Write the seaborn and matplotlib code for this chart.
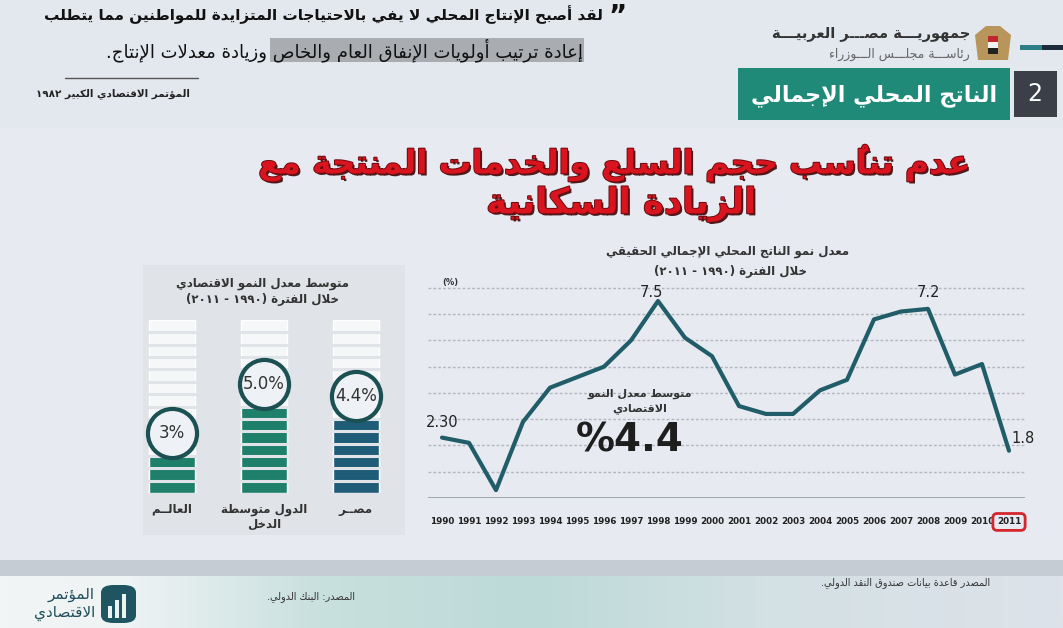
import numpy as np
import pandas as pd
import matplotlib
matplotlib.use("Agg")
import matplotlib.pyplot as plt
import matplotlib.patheffects as pe
from matplotlib.patches import Rectangle, FancyBboxPatch, Polygon
import seaborn as sns

# ---------------- data ----------------
years = list(range(1990, 2012))
gdp_growth = [2.3, 2.1, 0.3, 2.9, 4.2, 4.6, 5.0, 6.0, 7.5, 6.1, 5.4,
              3.5, 3.2, 3.2, 4.1, 4.5, 6.8, 7.1, 7.2, 4.7, 5.1, 1.8]
labelled_points = {1990: "2.30", 1998: "7.5", 2008: "7.2", 2011: "1.8"}
grid_levels = [1, 2, 3, 4, 5, 6, 7, 8]

bar_categories = ["العالــم", "الدول متوسطة\nالدخل", "مصــر"]
bar_values = ["3%", "5.0%", "4.4%"]
bar_filled_segments = [3, 7, 6]
bar_total_segments = 14

# ---------------- minimal Arabic shaping (presentation forms + visual order) ----------------
DUAL = {'ئ': 0xFE89, 'ب': 0xFE8F, 'ت': 0xFE95, 'ث': 0xFE99, 'ج': 0xFE9D, 'ح': 0xFEA1,
        'خ': 0xFEA5, 'س': 0xFEB1, 'ش': 0xFEB5, 'ص': 0xFEB9, 'ض': 0xFEBD, 'ط': 0xFEC1,
        'ظ': 0xFEC5, 'ع': 0xFEC9, 'غ': 0xFECD, 'ف': 0xFED1, 'ق': 0xFED5, 'ك': 0xFED9,
        'ل': 0xFEDD, 'م': 0xFEE1, 'ن': 0xFEE5, 'ه': 0xFEE9, 'ي': 0xFEF1}
RIGHT = {'آ': 0xFE81, 'أ': 0xFE83, 'ؤ': 0xFE85, 'إ': 0xFE87, 'ا': 0xFE8D, 'ة': 0xFE93,
         'د': 0xFEA9, 'ذ': 0xFEAB, 'ر': 0xFEAD, 'ز': 0xFEAF, 'و': 0xFEED, 'ى': 0xFEEF}
NONJ = {'ء': 0xFE80}
LAMALEF = {'آ': 0xFEF5, 'أ': 0xFEF7, 'إ': 0xFEF9, 'ا': 0xFEFB}
TATWEEL = 'ـ'
MIRROR = {'(': ')', ')': '(', '[': ']', ']': '['}


def is_mark(c):
    o = ord(c)
    return 0x064B <= o <= 0x065F or o == 0x0670


def joins_left(c):
    return c is not None and (c in DUAL or c == TATWEEL)


def joins_right(c):
    return c is not None and (c in DUAL or c in RIGHT or c == TATWEEL)


def shape(s):
    ch = list(s)
    n = len(ch)
    out = []

    def prev_base(i):
        j = i - 1
        while j >= 0 and is_mark(ch[j]):
            j -= 1
        return ch[j] if j >= 0 else None

    def next_base(i):
        j = i + 1
        while j < n and is_mark(ch[j]):
            j += 1
        return (ch[j], j) if j < n else (None, n)

    i = 0
    while i < n:
        c = ch[i]
        if is_mark(c):
            out.append(c)
            i += 1
            continue
        p = prev_base(i)
        jp = joins_left(p) and joins_right(c)
        nx, j = next_base(i)
        if c == 'ل' and nx in LAMALEF:
            out.append(chr(LAMALEF[nx] + (1 if jp else 0)))
            out.extend(ch[i + 1:j])
            i = j + 1
            continue
        jn = joins_left(c) and joins_right(nx)
        if c == TATWEEL:
            out.append(c)
        elif c in DUAL:
            b = DUAL[c]
            out.append(chr(b + 3 if (jp and jn) else b + 2 if jn else b + 1 if jp else b))
        elif c in RIGHT:
            b = RIGHT[c]
            out.append(chr(b + 1 if jp else b))
        elif c in NONJ:
            out.append(chr(NONJ[c]))
        else:
            out.append(c)
        i += 1
    return ''.join(out)


def is_ltr(cl):
    c = cl[0]
    return c.isdigit() or ('a' <= c.lower() <= 'z')


def ar(s):
    lines = []
    for line in s.split('\n'):
        shaped = shape(line)
        clusters = []
        for c in shaped:
            if is_mark(c) and clusters:
                clusters[-1] += c
            else:
                clusters.append(c)
        clusters.reverse()
        out, run = [], []
        for cl in clusters:
            if is_ltr(cl):
                run.append(cl)
            else:
                if run:
                    out.extend(reversed(run))
                    run = []
                out.append(MIRROR.get(cl, cl))
        if run:
            out.extend(reversed(run))
        lines.append(''.join(out))
    return '\n'.join(lines)


# ---------------- style ----------------
sns.set_style("white")
plt.rcParams['font.family'] = ['DejaVu Sans']

W, H = 1063, 628
BG = '#e3e7ee'
PANEL = '#e0e3e7'
TEAL = '#1f8a78'
LINE = '#215d68'

fig = plt.figure(figsize=(W / 100, H / 100), dpi=100, facecolor=BG)


def fx(x):
    return x / W


def fy(y):
    return 1 - y / H


def frect(x0, y0, x1, y1, **kw):
    r = Rectangle((fx(x0), fy(y1)), (x1 - x0) / W, (y1 - y0) / H,
                  transform=fig.transFigure, **kw)
    fig.add_artist(r)
    return r


def ftext(x, y, s, **kw):
    kw.setdefault('ha', 'center')
    kw.setdefault('va', 'center')
    return fig.text(fx(x), fy(y), s, **kw)


# lighter content area
frect(0, 128, W, 560, fc='#e7eaf0', ec='none', zorder=0)

# ---------------- header quote ----------------
frect(270, 38, 584, 62, fc='#a9acb1', ec='none', zorder=1)
ftext(603, 15, ar("لقد أصبح الإنتاج المحلي لا يفي بالاحتياجات المتزايدة للمواطنين مما يتطلب"),
      ha='right', fontsize=11, fontweight='bold', color='#111', zorder=3)
ftext(627, 17, "”", ha='right', fontsize=20, fontweight='bold', color='#111', zorder=3)
ftext(583, 50, ar("إعادة ترتيب أولويات الإنفاق العام والخاص وزيادة معدلات الإنتاج."),
      ha='right', fontsize=13, color='#111', zorder=3)
fig.add_artist(plt.Line2D([fx(65), fx(198)], [fy(78), fy(78)], color='#555', lw=1,
                          transform=fig.transFigure))
ftext(190, 94, ar("المؤتمر الاقتصادي الكبير ١٩٨٢"), ha='right', fontsize=7.5,
      fontweight='bold', color='#222')

# ---------------- right header ----------------
ftext(970, 35, ar("جمهوريـــة مصـــر العربيـــة"), ha='right', fontsize=10.5,
      fontweight='bold', color='#333')
ftext(970, 54, ar("رئاســـة مجلـــس الـــوزراء"), ha='right', fontsize=9, color='#666')
fig.add_artist(Polygon([(fx(978), fy(60)), (fx(975), fy(35)), (fx(986), fy(26)),
                        (fx(1000), fy(26)), (fx(1011), fy(35)), (fx(1008), fy(60))],
                       closed=True, transform=fig.transFigure, fc='#b8955a', ec='none'))
frect(988, 36, 998, 42, fc='#c0262d', ec='none', zorder=2)
frect(988, 42, 998, 48, fc='#f2f2f2', ec='none', zorder=2)
frect(988, 48, 998, 54, fc='#222222', ec='none', zorder=2)
frect(1020, 45, 1042, 50, fc='#2c7f86', ec='none', zorder=1)
frect(1042, 45, W, 50, fc='#1d2b3a', ec='none', zorder=1)

# banner
frect(738, 68, 1010, 120, fc=TEAL, ec='none', zorder=1)
ftext(874, 96, ar("الناتج المحلي الإجمالي"), fontsize=16, fontweight='bold', color='white')
frect(1014, 71, 1057, 117, fc='#3b3f47', ec='none', zorder=1)
ftext(1035, 94, "2", fontsize=17, color='white')

# ---------------- red title ----------------
title_fx = [pe.withSimplePatchShadow(offset=(1.5, -1.5), shadow_rgbFace='#3a0808', alpha=0.9),
            pe.withStroke(linewidth=1.4, foreground='#6a0c10')]
ftext(615, 163, ar("عدم تناسُب حجم السلع والخدمات المنتجة مع"), fontsize=23.5,
      fontweight='bold', color='#d9141f', path_effects=title_fx)
ftext(621, 204, ar("الزيادة السكانية"), fontsize=25.5, fontweight='bold',
      color='#d9141f', path_effects=title_fx)

# ---------------- left panel: segmented bars ----------------
frect(143, 265, 405, 535, fc=PANEL, ec='none', zorder=0)
ftext(263, 284, ar("متوسط معدل النمو الاقتصادي"), fontsize=8.5, fontweight='bold', color='#333')
ftext(263, 299, ar("خلال الفترة (١٩٩٠ - ٢٠١١)"), fontsize=8.5, fontweight='bold', color='#333')

axb = fig.add_axes([fx(103), fy(493), (425 - 103) / W, (493 - 320) / H])
axb.patch.set_alpha(0)
bar_df = pd.DataFrame({'cat': bar_categories,
                       'total': [bar_total_segments] * len(bar_categories),
                       'filled': bar_filled_segments})
sns.barplot(data=bar_df, x='cat', y='total', color='#f6f7f9', width=0.51,
            saturation=1, ax=axb)
sns.barplot(data=bar_df, x='cat', y='filled', hue='cat',
            palette=['#1e7f6b', '#1e7f6b', '#1f5c78'], width=0.51, saturation=1,
            legend=False, ax=axb)
axb.hlines(np.arange(1, bar_total_segments), -0.3, 2.3, color=PANEL, lw=2.2, zorder=3)
circle_y = np.array(bar_filled_segments) + 1.85
axb.scatter(np.arange(len(bar_categories)), circle_y, s=1250, facecolor='#eef1f5',
            edgecolor='#1b5152', linewidth=3, zorder=5, clip_on=False)
for i, (yv, lab) in enumerate(zip(circle_y, bar_values)):
    axb.text(i, yv, lab, ha='center', va='center', fontsize=12, color='#333', zorder=6)
axb.set_xlim(-0.75, 2.75)
axb.set_ylim(0, bar_total_segments)
axb.set_xticks(range(len(bar_categories)))
axb.set_xticklabels([ar(c) for c in bar_categories], fontsize=8.5, fontweight='bold',
                    color='#333', va='top')
axb.tick_params(axis='x', length=0, pad=7)
axb.set_yticks([])
axb.set_xlabel('')
axb.set_ylabel('')
sns.despine(ax=axb, left=True, bottom=True)

# ---------------- line chart ----------------
axl = fig.add_axes([fx(428), fy(498), (1025 - 428) / W, (498 - 280) / H])
axl.patch.set_alpha(0)
line_df = pd.DataFrame({'year': years, 'growth': gdp_growth})
for g in grid_levels:
    axl.axhline(g, color='#b3b8c0', lw=1, ls=(0, (2, 1.5)), zorder=1)
axl.axhline(0, color='#9aa0a8', lw=1.3, zorder=1)
sns.lineplot(data=line_df, x='year', y='growth', color=LINE, lw=3,
             ax=axl, zorder=3)
offsets = {1990: (0, 11), 1998: (-5, 6), 2008: (0, 12), 2011: (10, 9)}
for yr, txt in labelled_points.items():
    axl.annotate(txt, (yr, gdp_growth[years.index(yr)]), xytext=offsets[yr],
                 textcoords='offset points', ha='center', va='center',
                 fontsize=10.5, color='#222', annotation_clip=False)
axl.set_xlim(1990 - 14 / 27, 2011 + 16 / 27)
axl.set_ylim(0, 8.3)
axl.set_xticks(years)
axl.set_xticklabels([str(y) for y in years], fontsize=6.3, fontweight='bold', color='#222')
axl.tick_params(axis='x', length=0, pad=14)
tl = axl.get_xticklabels()[-1]
tl.set_bbox(dict(boxstyle='round,pad=0.45,rounding_size=0.5', fc='none',
                 ec='#d3262d', lw=2))
axl.set_yticks([])
axl.set_xlabel('')
axl.set_ylabel('')
sns.despine(ax=axl, left=True, bottom=True)

ftext(728, 252, ar("معدل نمو الناتج المحلي الإجمالي الحقيقي"), fontsize=8.5,
      fontweight='bold', color='#333')
ftext(730, 271, ar("خلال الفترة (١٩٩٠ - ٢٠١١)"), fontsize=8.5, fontweight='bold', color='#333')
ftext(450, 282, "(%)", fontsize=6, fontweight='bold', color='#333')
ftext(640, 394, ar("متوسط معدل النمو"), fontsize=8, fontweight='bold', color='#333')
ftext(640, 409, ar("الاقتصادي"), fontsize=8, fontweight='bold', color='#333')
ftext(630, 440, "%4.4", fontsize=28, fontweight='bold', color='#1e1e1e')

# ---------------- footer ----------------
frect(0, 560, W, 576, fc='#c6ccd4', ec='none', zorder=0)
axf = fig.add_axes([0, 0, 1, (628 - 576) / H])
stops = [0.0, 0.12, 0.3, 0.5, 0.72, 1.0]
stop_cols = ['#f2f5f6', '#eef3f4', '#c8e0de', '#bddad8', '#d3e0e4', '#dde3ea']
xs = np.linspace(0, 1, 400)
rgb = np.array([matplotlib.colors.to_rgb(c) for c in stop_cols])
grad = np.stack([np.interp(xs, stops, rgb[:, k]) for k in range(3)], axis=-1)[None, :, :]
axf.imshow(grad, aspect='auto', extent=(0, 1, 0, 1))
axf.set_axis_off()

ftext(990, 583, ar("المصدر قاعدة بيانات صندوق النقد الدولي."), ha='right',
      fontsize=7, color='#333')
ftext(355, 597, ar("المصدر: البنك الدولي."), ha='right', fontsize=7, color='#333')
ftext(95, 594, ar("المؤتمر"), ha='right', fontsize=11, color='#1f4f5b')
ftext(95, 613, ar("الاقتصادي"), ha='right', fontsize=11, color='#1f4f5b')
fig.add_artist(FancyBboxPatch((fx(101), fy(623)), 35 / W, 38 / H,
                              boxstyle='round,pad=0,rounding_size=0.012',
                              transform=fig.transFigure, fc='#1f5561', ec='none'))
for bx, bh in [(108, 12), (115, 18), (122, 24)]:
    frect(bx, 618 - bh, bx + 4, 618, fc='#eaf2f2', ec='none', zorder=3)

fig.savefig("out.png", dpi=100, facecolor=fig.get_facecolor())
